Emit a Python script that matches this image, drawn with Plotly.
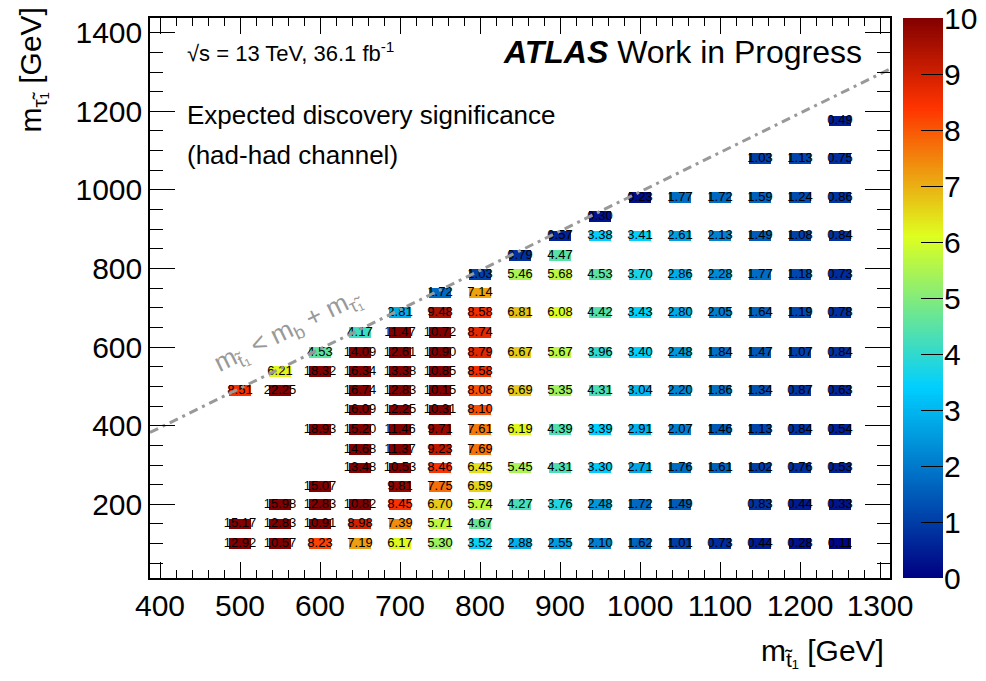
import numpy as np
import plotly.graph_objects as go

# ---------------- data ----------------
row_mstau = [100, 150, 200, 245, 292, 340, 390, 440, 490, 538, 586, 637,
             688, 738, 785, 833, 883, 932, 981, 1080, 1175]

row_mstop = [
    [500, 550, 600, 650, 700, 750, 800, 850, 900, 950, 1000, 1050, 1100, 1150, 1200, 1250],
    [500, 550, 600, 650, 700, 750, 800],
    [550, 600, 650, 700, 750, 800, 850, 900, 950, 1000, 1050, 1150, 1200, 1250],
    [600, 700, 750, 800],
    [650, 700, 750, 800, 850, 900, 950, 1000, 1050, 1100, 1150, 1200, 1250],
    [650, 700, 750, 800],
    [600, 650, 700, 750, 800, 850, 900, 950, 1000, 1050, 1100, 1150, 1200, 1250],
    [650, 700, 750, 800],
    [500, 550, 650, 700, 750, 800, 850, 900, 950, 1000, 1050, 1100, 1150, 1200, 1250],
    [550, 600, 650, 700, 750, 800],
    [600, 650, 700, 750, 800, 850, 900, 950, 1000, 1050, 1100, 1150, 1200, 1250],
    [650, 700, 750, 800],
    [700, 750, 800, 850, 900, 950, 1000, 1050, 1100, 1150, 1200, 1250],
    [750, 800],
    [800, 850, 900, 950, 1000, 1050, 1100, 1150, 1200, 1250],
    [850, 900],
    [900, 950, 1000, 1050, 1100, 1150, 1200, 1250],
    [950],
    [1000, 1050, 1100, 1150, 1200, 1250],
    [1150, 1200, 1250],
    [1250],
]

row_signif = [
    [12.92, 10.57, 8.23, 7.19, 6.17, 5.30, 3.52, 2.88, 2.55, 2.10, 1.62, 1.01, 0.73, 0.44, 0.28, 0.11],
    [15.17, 12.83, 10.91, 8.98, 7.39, 5.71, 4.67],
    [15.98, 12.83, 10.82, 8.45, 6.70, 5.74, 4.27, 3.76, 2.48, 1.72, 1.49, 0.83, 0.44, 0.33],
    [15.07, 9.81, 7.75, 6.59],
    [13.48, 10.53, 8.46, 6.45, 5.45, 4.31, 3.30, 2.71, 1.76, 1.61, 1.02, 0.76, 0.53],
    [14.68, 11.37, 9.23, 7.69],
    [18.93, 15.20, 11.46, 9.71, 7.61, 6.19, 4.39, 3.39, 2.91, 2.07, 1.46, 1.13, 0.84, 0.54],
    [16.09, 12.25, 10.31, 8.10],
    [8.51, 22.25, 16.74, 12.83, 10.15, 8.08, 6.69, 5.35, 4.31, 3.04, 2.20, 1.86, 1.34, 0.87, 0.63],
    [6.21, 18.32, 16.34, 13.38, 10.85, 8.58],
    [4.53, 14.09, 12.61, 10.90, 8.79, 6.67, 5.67, 3.96, 3.40, 2.48, 1.84, 1.47, 1.07, 0.84],
    [4.17, 11.47, 10.72, 8.74],
    [2.81, 9.48, 8.58, 6.81, 6.08, 4.42, 3.43, 2.80, 2.05, 1.64, 1.19, 0.78],
    [1.72, 7.14],
    [1.03, 5.46, 5.68, 4.53, 3.70, 2.86, 2.28, 1.77, 1.18, 0.73],
    [0.79, 4.47],
    [0.57, 3.38, 3.41, 2.61, 2.13, 1.49, 1.08, 0.84],
    [0.30],
    [0.23, 1.77, 1.72, 1.59, 1.24, 0.86],
    [1.03, 1.13, 0.75],
    [0.49],
]

x_ticks = [400, 500, 600, 700, 800, 900, 1000, 1100, 1200, 1300]
y_ticks = [200, 400, 600, 800, 1000, 1200, 1400]
z_ticks = [0, 1, 2, 3, 4, 5, 6, 7, 8, 9, 10]
Z_RANGE = [0, 10]
m_b = 4.8

# ---------------- flatten ----------------
xs, ys, zs = [], [], []
for ms, stops, vals in zip(row_mstau, row_mstop, row_signif):
    for xv, zv in zip(stops, vals):
        xs.append(xv)
        ys.append(ms)
        zs.append(zv)

CELL_W = 27
CELL_H = 27
X_RANGE = [387.5, 1312.5]
Y_RANGE = [12.5, 1437.5]

colorscale = [
    [0.00, "rgb(0,0,130)"],
    [0.34, "rgb(0,207,255)"],
    [0.61, "rgb(222,255,31)"],
    [0.84, "rgb(255,51,0)"],
    [1.00, "rgb(130,0,0)"],
]

FONT = "Liberation Sans, Arial, Helvetica, sans-serif"
GREY = "#999999"

W, H = 986, 681
L, R, T, B = 150, 943, 18, 578
FRAME_R = 890
CB_L = 903

fig = go.Figure()

fig.add_trace(go.Bar(
    x=xs,
    y=[CELL_H] * len(xs),
    base=[v - CELL_H / 2 for v in ys],
    width=CELL_W,
    marker=dict(color=zs, colorscale=colorscale, cmin=Z_RANGE[0],
                cmax=Z_RANGE[1], line=dict(width=0), showscale=False),
    hoverinfo="skip",
    showlegend=False,
))

fig.add_trace(go.Scatter(
    x=xs, y=ys, mode="text",
    text=[f"{v:.2f}" for v in zs],
    textposition="middle center",
    textfont=dict(size=13, family=FONT, color="black"),
    hoverinfo="skip", showlegend=False,
))

# kinematic limit line m_stop = m_b + m_stau
fig.add_trace(go.Scatter(
    x=X_RANGE, y=[X_RANGE[0] - m_b, X_RANGE[1] - m_b],
    mode="lines",
    line=dict(color=GREY, width=3, dash="9px,5px,3px,5px"),
    hoverinfo="skip", showlegend=False,
))

# palette strip (colour axis), drawn as a heatmap on its own axes
levels = np.linspace(Z_RANGE[0], Z_RANGE[1], 401)
fig.add_trace(go.Heatmap(
    z=[[v] for v in levels], y=levels, x=[0],
    colorscale=colorscale, zmin=Z_RANGE[0], zmax=Z_RANGE[1],
    showscale=False, hoverinfo="skip",
    xaxis="x2", yaxis="y2",
))


def px(x):
    return (x - L) / (R - L)


def py(y):
    return (B - y) / (B - T)


annotations = [
    dict(text="√s = 13 TeV, 36.1 fb<sup>-1</sup>", x=px(185), y=py(52),
         xanchor="left", yanchor="middle", font=dict(size=22)),
    dict(text="<b><i>ATLAS</i></b> Work in Progress", x=px(864), y=py(52),
         xanchor="right", yanchor="middle", font=dict(size=32)),
    dict(text="Expected discovery significance", x=px(185), y=py(115),
         xanchor="left", yanchor="middle", font=dict(size=26)),
    dict(text="(had-had channel)", x=px(185), y=py(155),
         xanchor="left", yanchor="middle", font=dict(size=26)),
    dict(text="m<sub>t̃₁</sub> [GeV]", x=px(886), y=py(652),
         xanchor="right", yanchor="middle", font=dict(size=30)),
    dict(text="m<sub>τ̃₁</sub> [GeV]", x=px(32), y=py(6),
         xanchor="center", yanchor="top", textangle=-90, font=dict(size=30)),
    dict(text="m<sub>t̃₁</sub> < m<sub>b</sub> + m<sub>τ̃₁</sub>",
         x=px(288), y=py(330), xanchor="center", yanchor="middle",
         textangle=-26, font=dict(size=26, color=GREY)),
]
for a in annotations:
    a.setdefault("xref", "paper")
    a.setdefault("yref", "paper")
    a["showarrow"] = False
    f = a["font"]
    f.setdefault("family", FONT)
    f.setdefault("color", "black")

tickfont = dict(size=30, family=FONT, color="black")

fig.update_layout(
    width=W, height=H,
    margin=dict(l=L, r=W - R, t=T, b=H - B, pad=0, autoexpand=False),
    plot_bgcolor="white", paper_bgcolor="white",
    barmode="overlay", bargap=0,
    font=dict(family=FONT, color="black"),
    annotations=annotations,
    xaxis=dict(
        domain=[0, px(FRAME_R)],
        range=X_RANGE, tickvals=x_ticks, ticks="inside", ticklen=16,
        tickwidth=1.2, tickcolor="black",
        minor=dict(dtick=20, tick0=400, ticks="inside", ticklen=8,
                   tickcolor="black", tickwidth=1),
        showline=True, linecolor="black", linewidth=1.5, mirror="allticks",
        showgrid=False, zeroline=False, tickfont=tickfont,
    ),
    yaxis=dict(
        range=Y_RANGE, tickvals=y_ticks, ticks="inside", ticklen=25,
        tickwidth=1.2, tickcolor="black",
        minor=dict(dtick=50, tick0=0, ticks="inside", ticklen=13,
                   tickcolor="black", tickwidth=1),
        showline=True, linecolor="black", linewidth=1.5, mirror="allticks",
        showgrid=False, zeroline=False, tickfont=tickfont,
    ),
    xaxis2=dict(
        domain=[px(CB_L), 1], range=[-0.5, 0.5], anchor="y2",
        visible=False, fixedrange=True,
    ),
    yaxis2=dict(
        domain=[0, 1], range=Z_RANGE, anchor="x2", side="right",
        tickvals=z_ticks, ticks="inside", ticklen=22, tickwidth=1.2,
        tickcolor="black", showline=False, showgrid=False, zeroline=False,
        tickfont=tickfont, layer="above traces", fixedrange=True,
    ),
)

fig.write_html("out.html")
